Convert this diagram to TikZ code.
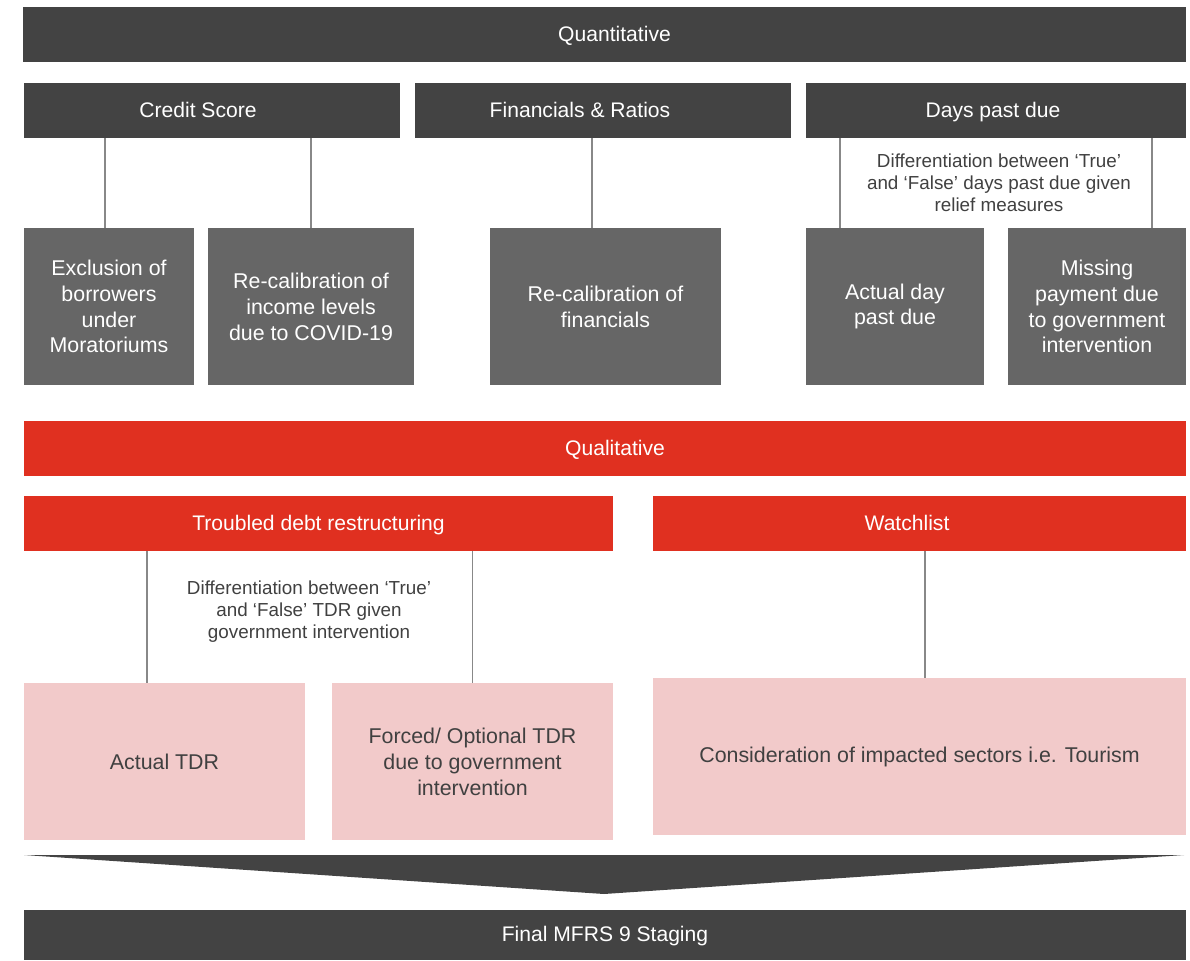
\documentclass[tikz,border=0pt]{standalone}
\usepackage{fontspec}
\setmainfont{Liberation Sans}
\usepackage{tikz}

\definecolor{darkbar}{RGB}{67,67,67}
\definecolor{midgray}{RGB}{102,102,102}
\definecolor{kred}{RGB}{224,48,32}
\definecolor{kpink}{RGB}{242,202,202}
\definecolor{ktext}{RGB}{64,64,64}
\definecolor{kline}{RGB}{136,136,136}

\begin{document}
\begin{tikzpicture}[x=0.025cm, y=-0.025cm,
  head/.style={fill=darkbar, text=white, minimum height=1.375cm, inner sep=0pt,
    text height=0.97em, text depth=0pt, font=\fontsize{15}{18}\selectfont},
  redhead/.style={head, fill=kred},
  graybox/.style={fill=midgray, text=white, minimum height=3.925cm, inner sep=0pt,
    align=center, font=\fontsize{15.2}{18.4}\selectfont},
  pinkbox/.style={graybox, fill=kpink, text=ktext},
  note/.style={text=ktext, align=center, inner sep=0pt,
    font=\fontsize{13.4}{15.6}\selectfont},
  link/.style={draw=kline, line width=1.2pt}]

\useasboundingbox (0,0) rectangle (1190,960);

\node[head, minimum width=29.075cm] (quant) at (604.5,34.5) {\hspace{0.5cm}Quantitative};

\node[head, minimum width=9.4cm] (credit) at (212,110.5) {Credit Score\hspace{0.7cm}\null};
\node[head, minimum width=9.4cm] (fin) at (603,110.5) {Financials \& Ratios\hspace{1.15cm}\null};
\node[head, minimum width=9.5cm] (dpd) at (996,110.5) {Days past due\hspace{0.15cm}\null};

\node[graybox, minimum width=4.25cm] (excl) at (109,306.5) {Exclusion of\\borrowers\\under\\Moratoriums};
\node[graybox, minimum width=5.15cm] (income) at (311,306.5) {Re-calibration of\\income levels\\due to COVID-19};
\node[graybox, minimum width=5.775cm] (refin) at (605.5,306.5) {Re-calibration of\\financials};
\node[graybox, minimum width=4.45cm] (actual) at (895,306.5) {Actual day\\past due};
\node[graybox, minimum width=4.45cm] (missing) at (1097,306.5) {Missing\\payment due\\to government\\intervention};

\node[note] (dpdnote) at (999,183) {Differentiation between ‘True’\\and ‘False’ days past due given\\relief measures};

\draw[link] ([xshift=-0.1cm]excl.north) -- ([xshift=-0.1cm]excl.north |- credit.south);
\draw[link] (income.north) -- (income.north |- credit.south);
\draw[link] ([xshift=-0.3375cm]refin.north) -- ([xshift=-0.3375cm]refin.north |- fin.south);
\draw[link] ([xshift=0.85cm]actual.north west) -- ([xshift=0.85cm]actual.north west |- dpd.south);
\draw[link] ([xshift=-0.85cm]missing.north east) -- ([xshift=-0.85cm]missing.north east |- dpd.south);

\node[redhead, minimum width=29.05cm] (qual) at (605,448.5) {\hspace{0.5cm}Qualitative};

\node[redhead, minimum width=14.725cm] (tdr) at (318.5,523.5) {Troubled debt restructuring};
\node[redhead, minimum width=13.325cm] (watch) at (919.5,523.5) {Watchlist\hspace{0.625cm}\null};

\node[pinkbox, minimum width=7.025cm] (acttdr) at (164.5,761.5) {Actual TDR};
\node[pinkbox, minimum width=7.025cm] (forced) at (472.5,761.5) {Forced/ Optional TDR\\due to government\\intervention};
\node[pinkbox, minimum width=13.325cm] (sectors) at (919.5,756.5) {Consideration of impacted sectors i.e. Tourism};

\node[note] (tdrnote) at (309,612) {Differentiation between ‘True’\\and ‘False’ TDR given\\government intervention};

\draw[link] ([xshift=-0.4375cm]acttdr.north) -- ([xshift=-0.4375cm]acttdr.north |- tdr.south);
\draw[link] (forced.north) -- (forced.north |- tdr.south);
\draw[link] ([xshift=0.1375cm]sectors.north) -- ([xshift=0.1375cm]sectors.north |- watch.south);

\fill[darkbar] (24,855) -- (1184,855) -- (604,894) -- cycle;

\node[head, minimum width=29.05cm, minimum height=1.25cm] (final) at (605,935) {Final MFRS 9 Staging};

\end{tikzpicture}
\end{document}
